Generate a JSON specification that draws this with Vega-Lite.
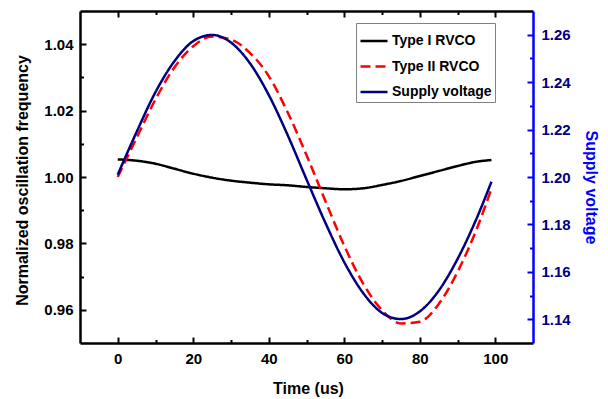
{
  "$schema": "https://vega.github.io/schema/vega-lite/v6.json",
  "width": 453,
  "height": 332,
  "autosize": "none",
  "padding": {"left": 80, "top": 11, "right": 75, "bottom": 56},
  "background": "white",
  "config": {
    "view": {"stroke": null},
    "font": "Liberation Sans",
    "axis": {
      "grid": false,
      "labelFont": "Liberation Sans",
      "labelFontSize": 15,
      "labelFontWeight": "bold",
      "titleFont": "Liberation Sans",
      "titleFontSize": 16,
      "titleFontWeight": "bold",
      "domainWidth": 2.5,
      "tickWidth": 2,
      "labelColor": "#000000",
      "titleColor": "#000000",
      "domainColor": "#000000",
      "tickColor": "#000000"
    }
  },
  "data": {
    "values": [
      {"t": 0, "series": "Type I RVCO", "v": 1.0053},
      {"t": 5, "series": "Type I RVCO", "v": 1.0049},
      {"t": 10, "series": "Type I RVCO", "v": 1.0040},
      {"t": 15, "series": "Type I RVCO", "v": 1.0025},
      {"t": 20, "series": "Type I RVCO", "v": 1.0010},
      {"t": 25, "series": "Type I RVCO", "v": 0.9998},
      {"t": 30, "series": "Type I RVCO", "v": 0.9989},
      {"t": 35, "series": "Type I RVCO", "v": 0.9983},
      {"t": 40, "series": "Type I RVCO", "v": 0.9978},
      {"t": 45, "series": "Type I RVCO", "v": 0.9975},
      {"t": 50, "series": "Type I RVCO", "v": 0.9970},
      {"t": 55, "series": "Type I RVCO", "v": 0.9966},
      {"t": 60, "series": "Type I RVCO", "v": 0.9963},
      {"t": 65, "series": "Type I RVCO", "v": 0.9966},
      {"t": 70, "series": "Type I RVCO", "v": 0.9976},
      {"t": 75, "series": "Type I RVCO", "v": 0.9988},
      {"t": 80, "series": "Type I RVCO", "v": 1.0003},
      {"t": 85, "series": "Type I RVCO", "v": 1.0018},
      {"t": 90, "series": "Type I RVCO", "v": 1.0033},
      {"t": 95, "series": "Type I RVCO", "v": 1.0046},
      {"t": 99, "series": "Type I RVCO", "v": 1.0051},
      {"t": 0, "series": "Type II RVCO", "v": 1.0000},
      {"t": 5, "series": "Type II RVCO", "v": 1.0118},
      {"t": 10, "series": "Type II RVCO", "v": 1.0234},
      {"t": 15, "series": "Type II RVCO", "v": 1.0330},
      {"t": 20, "series": "Type II RVCO", "v": 1.0394},
      {"t": 25, "series": "Type II RVCO", "v": 1.0423},
      {"t": 30, "series": "Type II RVCO", "v": 1.0414},
      {"t": 35, "series": "Type II RVCO", "v": 1.0374},
      {"t": 40, "series": "Type II RVCO", "v": 1.0304},
      {"t": 45, "series": "Type II RVCO", "v": 1.0195},
      {"t": 50, "series": "Type II RVCO", "v": 1.0066},
      {"t": 55, "series": "Type II RVCO", "v": 0.9928},
      {"t": 60, "series": "Type II RVCO", "v": 0.9793},
      {"t": 65, "series": "Type II RVCO", "v": 0.9679},
      {"t": 70, "series": "Type II RVCO", "v": 0.9599},
      {"t": 75, "series": "Type II RVCO", "v": 0.9559},
      {"t": 80, "series": "Type II RVCO", "v": 0.9564},
      {"t": 85, "series": "Type II RVCO", "v": 0.9617},
      {"t": 90, "series": "Type II RVCO", "v": 0.9714},
      {"t": 95, "series": "Type II RVCO", "v": 0.9841},
      {"t": 99, "series": "Type II RVCO", "v": 0.9965},
      {"t": 0, "series": "Supply voltage", "v": 1.2010},
      {"t": 5, "series": "Supply voltage", "v": 1.2190},
      {"t": 10, "series": "Supply voltage", "v": 1.2358},
      {"t": 15, "series": "Supply voltage", "v": 1.2488},
      {"t": 20, "series": "Supply voltage", "v": 1.2573},
      {"t": 25, "series": "Supply voltage", "v": 1.2599},
      {"t": 30, "series": "Supply voltage", "v": 1.2567},
      {"t": 35, "series": "Supply voltage", "v": 1.2480},
      {"t": 40, "series": "Supply voltage", "v": 1.2346},
      {"t": 45, "series": "Supply voltage", "v": 1.2177},
      {"t": 50, "series": "Supply voltage", "v": 1.1990},
      {"t": 55, "series": "Supply voltage", "v": 1.1807},
      {"t": 60, "series": "Supply voltage", "v": 1.1641},
      {"t": 65, "series": "Supply voltage", "v": 1.1511},
      {"t": 70, "series": "Supply voltage", "v": 1.1427},
      {"t": 75, "series": "Supply voltage", "v": 1.1401},
      {"t": 80, "series": "Supply voltage", "v": 1.1433},
      {"t": 85, "series": "Supply voltage", "v": 1.1520},
      {"t": 90, "series": "Supply voltage", "v": 1.1654},
      {"t": 95, "series": "Supply voltage", "v": 1.1823},
      {"t": 99, "series": "Supply voltage", "v": 1.1980}
    ]
  },
  "layer": [
    {
      "transform": [{"filter": "datum.series !== 'Supply voltage'"}],
      "mark": {"type": "line", "strokeWidth": 2.5, "interpolate": "monotone"},
      "encoding": {
        "x": {
          "field": "t", "type": "quantitative",
          "scale": {"domain": [-10, 110], "nice": false, "zero": false},
          "axis": {"orient": "bottom", "values": [0, 20, 40, 60, 80, 100], "format": "d", "tickSize": -6, "labelPadding": 14,
                   "title": "Time (us)", "titleX": 228, "titleY": 45, "titleBaseline": "middle", "titleAlign": "center"}
        },
        "y": {
          "field": "v", "type": "quantitative",
          "scale": {"domain": [0.95, 1.05], "nice": false, "zero": false},
          "axis": {"orient": "left", "values": [0.96, 0.98, 1.0, 1.02, 1.04], "format": ".2f", "tickSize": -6, "labelPadding": 13,
                   "title": "Normalized oscillation frequency", "titleX": -58, "titleY": 169, "titleBaseline": "middle", "titleAlign": "center", "titleAngle": -90}
        },
        "color": {
          "field": "series", "type": "nominal",
          "scale": {"domain": ["Type I RVCO", "Type II RVCO", "Supply voltage"], "range": ["#000000", "#FF0000", "#000080"]},
          "legend": {"title": null, "orient": "none", "legendX": 276, "legendY": 12, "strokeColor": "#808080", "fillColor": "#ffffff",
                     "padding": 3, "symbolType": "stroke", "symbolSize": 729, "symbolStrokeWidth": 2.5,
                     "labelFont": "Liberation Sans", "labelFontSize": 14, "labelFontWeight": "bold", "labelColor": "#000000",
                     "rowPadding": 3.5, "labelOffset": 3}
        },
        "strokeDash": {
          "field": "series", "type": "nominal",
          "scale": {"domain": ["Type I RVCO", "Type II RVCO", "Supply voltage"], "range": [[1, 0], [10, 5], [1, 0]]},
          "legend": {"title": null, "orient": "none", "legendX": 276, "legendY": 12, "strokeColor": "#808080", "fillColor": "#ffffff",
                     "padding": 3, "symbolType": "stroke", "symbolSize": 729, "symbolStrokeWidth": 2.5,
                     "labelFont": "Liberation Sans", "labelFontSize": 14, "labelFontWeight": "bold", "labelColor": "#000000",
                     "rowPadding": 3.5, "labelOffset": 3}
        }
      }
    },
    {
      "transform": [{"filter": "datum.series === 'Supply voltage'"}],
      "mark": {"type": "line", "strokeWidth": 2.5, "interpolate": "monotone"},
      "encoding": {
        "x": {
          "field": "t", "type": "quantitative",
          "scale": {"domain": [-10, 110], "nice": false, "zero": false},
          "axis": {"orient": "top", "values": [0, 20, 40, 60, 80, 100], "tickSize": -6, "labels": false, "title": null}
        },
        "y": {
          "field": "v", "type": "quantitative",
          "scale": {"domain": [1.13, 1.27], "nice": false, "zero": false},
          "axis": {"orient": "right", "values": [1.14, 1.16, 1.18, 1.2, 1.22, 1.24, 1.26], "format": ".2f", "tickSize": -6, "labelPadding": 14,
                   "domainColor": "#0000FF", "tickColor": "#0000FF", "labelColor": "#000080", "titleColor": "#0000FF",
                   "title": "Supply voltage", "titleX": 57, "titleY": 176, "titleBaseline": "middle", "titleAlign": "center", "titleAngle": 90}
        },
        "color": {"field": "series", "type": "nominal"},
        "strokeDash": {"field": "series", "type": "nominal"}
      }
    },
    {
      "transform": [{"filter": "datum.series === 'Type I RVCO'"}],
      "mark": {"type": "line", "opacity": 0},
      "encoding": {
        "x": {
          "field": "t", "type": "quantitative",
          "scale": {"domain": [-10, 110], "nice": false, "zero": false},
          "axis": {"orient": "bottom", "values": [10, 30, 50, 70, 90], "tickSize": -3.5, "labels": false, "domain": false, "title": null}
        },
        "y": {
          "field": "v", "type": "quantitative",
          "scale": {"domain": [0.95, 1.05], "nice": false, "zero": false},
          "axis": {"orient": "left", "values": [0.97, 0.99, 1.01, 1.03], "tickSize": -3.5, "labels": false, "domain": false, "title": null}
        }
      }
    },
    {
      "transform": [{"filter": "datum.series === 'Supply voltage'"}],
      "mark": {"type": "line", "opacity": 0},
      "encoding": {
        "x": {
          "field": "t", "type": "quantitative",
          "scale": {"domain": [-10, 110], "nice": false, "zero": false},
          "axis": {"orient": "top", "values": [10, 30, 50, 70, 90], "tickSize": -3.5, "labels": false, "domain": false, "title": null}
        },
        "y": {
          "field": "v", "type": "quantitative",
          "scale": {"domain": [1.13, 1.27], "nice": false, "zero": false},
          "axis": {"orient": "right", "values": [1.15, 1.17, 1.19, 1.21, 1.23, 1.25], "tickSize": -3.5, "labels": false, "domain": false, "title": null, "tickColor": "#0000FF"}
        }
      }
    }
  ],
  "resolve": {"scale": {"y": "independent"}, "axis": {"x": "independent", "y": "independent"}}
}
